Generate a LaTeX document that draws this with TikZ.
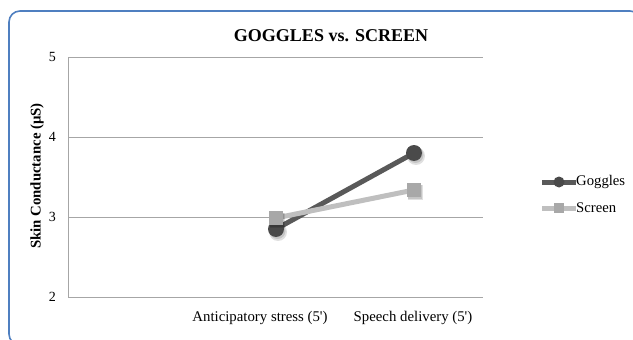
\documentclass[tikz,border=0pt]{standalone}
\usepackage{fontspec}
\setmainfont{Liberation Serif}
\usetikzlibrary{calc}
\definecolor{frameblue}{HTML}{4F7FC0}
\definecolor{gridgray}{HTML}{A6A6A6}
\definecolor{goggc}{HTML}{595959}
\definecolor{goggm}{HTML}{4A4A4A}
\definecolor{scrc}{HTML}{BFBFBF}
\definecolor{scrm}{HTML}{A8A8A8}
\tikzset{
  gridline/.style={draw=gridgray, line width=1pt},
  ticklabel/.style={font=\fontsize{14}{16}\selectfont, anchor=east, inner sep=0pt},
  catlabel/.style={font=\fontsize{14.8}{17}\selectfont, inner sep=0pt},
  goggline/.style={draw=goggc, line width=5pt},
  scrline/.style={draw=scrc, line width=5pt},
  goggmark/.style={circle, fill=goggm, minimum size=16pt, inner sep=0pt},
  scrmark/.style={rectangle, fill=scrm, minimum size=14pt, inner sep=0pt},
  shadowmark/.style={fill=black, opacity=0.12},
  legtext/.style={font=\fontsize{14.7}{17}\selectfont, anchor=west, inner sep=0pt},
}
\begin{document}
\begin{tikzpicture}[x=1pt,y=-1pt]
\useasboundingbox (0,0) rectangle (633,340);
% chart frame (continues past the page edges)
\begin{scope}
  \clip (0,0) rectangle (633,340);
  \draw[frameblue, line width=1.6pt, rounded corners=11pt] (9,11) rectangle (641,345);
\end{scope}

% title
\node[font=\bfseries\fontsize{18}{20}\selectfont] (title) at (331,36) {GOGGLES vs. SCREEN};

% gridlines and value axis
\foreach \v/\yy in {5/57,4/137,3/217,2/297}{
  \draw[gridline] (68,\yy) -- (483,\yy);
  \node[ticklabel] (tick\v) at (56,\yy) {\v};
}
\draw[gridline] (68,57) -- (68,297);

% axis title
\node[font=\bfseries\fontsize{14.8}{17}\selectfont, rotate=90] (ylabel) at (37,176) {Skin Conductance (µS)};

% category labels
\node[catlabel] (cat1) at (260,318) {Anticipatory stress (5\textquotesingle)};
\node[catlabel] (cat2) at (413,318) {Speech delivery (5\textquotesingle)};

% data points
\coordinate (g1) at (276,229);
\coordinate (g2) at (414,153);
\coordinate (s1) at (276,218);
\coordinate (s2) at (414,190);

% Goggles series
\draw[goggline] (g1) -- (g2);
\foreach \p in {g1,g2}{
  \fill[shadowmark] ($(\p)+(2,3)$) circle (9pt);
  \fill[shadowmark] ($(\p)+(1.5,2)$) circle (8pt);
  \node[goggmark] at (\p) {};
}
% Screen series
\draw[scrline] (s1) -- (s2);
\foreach \p in {s1,s2}{
  \fill[shadowmark] ($(\p)+(-6,-5)$) rectangle ($(\p)+(9,10)$);
  \fill[shadowmark] ($(\p)+(-6.5,-5.5)$) rectangle ($(\p)+(8,9)$);
  \node[scrmark] at (\p) {};
}

% legend
\coordinate (lg0) at (542,182);
\coordinate (lg1) at (576,182);
\coordinate (ls0) at (542,208);
\coordinate (ls1) at (576,208);
\draw[goggline] (lg0) -- (lg1);
\node[goggmark, minimum size=11pt] (lgm) at ($(lg0)!0.5!(lg1)$) {};
\node[legtext] (lgt) at (lg1) {Goggles};
\draw[scrline] (ls0) -- (ls1);
\node[scrmark, minimum size=10pt] (lsm) at ($(ls0)!0.5!(ls1)$) {};
\node[legtext] (lst) at (ls1) {Screen};
\end{tikzpicture}
\end{document}
